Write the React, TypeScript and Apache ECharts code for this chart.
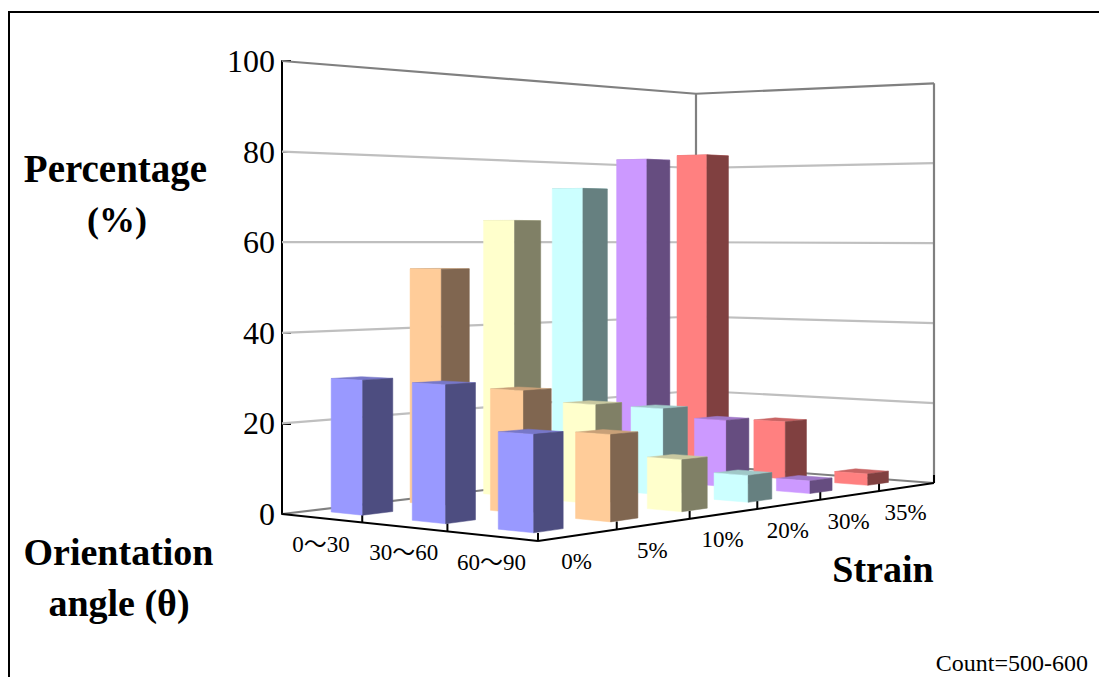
import React, { useEffect, useRef } from "react";
import * as echarts from "echarts";

const strainLabels = ["0%", "5%", "10%", "20%", "30%", "35%"];
const angleLabels = ["0～30", "30～60", "60～90"];
const tickValues = [0, 20, 40, 60, 80, 100];

// Percentage of fibres per orientation band, one entry per strain level.
const band0to30 = [29.7, 53.9, 65.2, 73.2, 81, 82.8];
const band30to60 = [29.7, 27.2, 22.8, 20.5, 16.3, 14.5];
const band60to90 = [20.4, 18.8, 11.6, 6.2, 3, 2.8];
const bands = [band0to30, band30to60, band60to90];

const faceLight = ["#9999FF", "#FFCC99", "#FFFFCC", "#CCFFFF", "#CC99FF", "#FF8080"];
const faceDark = ["#4D4D80", "#806650", "#808066", "#668080", "#664D80", "#804040"];
const faceTop = ["#7777C8", "#C8A078", "#C8C8A0", "#A0C8C8", "#A078C8", "#C86464"];

const SERIF = '"Liberation Serif","Times New Roman","Noto Sans CJK JP",serif';

// Floor plane corners on screen: a runs along the orientation axis, s along the strain axis.
const LEFT = [282, 514];
const FRONT = [538, 541];
const RIGHT = [934, 483];
const BACK = [696, 465];
const GRID = { left: 282, top: 61, width: 652, height: 453 };

const dx1 = FRONT[0] - RIGHT[0];
const dx2 = BACK[0] - RIGHT[0];
const sx = LEFT[0] - FRONT[0] + RIGHT[0] - BACK[0];
const dy1 = FRONT[1] - RIGHT[1];
const dy2 = BACK[1] - RIGHT[1];
const sy = LEFT[1] - FRONT[1] + RIGHT[1] - BACK[1];
const den = dx1 * dy2 - dx2 * dy1;
const G = (sx * dy2 - dx2 * sy) / den;
const H = (dx1 * sy - sx * dy1) / den;
const A = FRONT[0] - LEFT[0] + G * FRONT[0];
const B = BACK[0] - LEFT[0] + H * BACK[0];
const D = FRONT[1] - LEFT[1] + G * FRONT[1];
const E = BACK[1] - LEFT[1] + H * BACK[1];

// Perspective projection of a floor point raised by `lift` pixels (as measured on the left wall).
function project(a: number, s: number, lift = 0): number[] {
  const w = G * a + H * s + 1;
  return [
    (A * a + B * s + LEFT[0]) / w,
    (D * a + E * s + LEFT[1]) / w - lift / w,
  ];
}

// Bar footprint inside its cell, as fractions of the cell.
const A_START = 0.22;
const A_END = 0.615;
const S_START = 0.385;
const S_END = 0.76;

const barData: number[][] = [];
bands.forEach((values, angle) => {
  for (let strain = values.length - 1; strain >= 0; strain--) {
    barData.push([strain, values[strain], angle]);
  }
});

function renderBar(_: any, api: any) {
  const strain = api.value(0);
  const value = api.value(1);
  const angle = api.value(2);
  const [px, py] = api.coord([strain, value]);
  const cellS = (px - GRID.left) / GRID.width - 0.5 / 6;
  const lift = GRID.top + GRID.height - py;
  const a0 = (angle + A_START) / 3;
  const a1 = (angle + A_END) / 3;
  const s0 = cellS + S_START / 6;
  const s1 = cellS + S_END / 6;
  const face = (pts: number[][], fill: string) => ({
    type: "polygon",
    shape: { points: pts },
    style: { fill, stroke: fill, lineWidth: 0.5 },
  });
  return {
    type: "group",
    children: [
      face(
        [project(a0, s0, lift), project(a1, s0, lift), project(a1, s1, lift), project(a0, s1, lift)],
        faceTop[strain]
      ),
      face(
        [project(a0, s0), project(a1, s0), project(a1, s0, lift), project(a0, s0, lift)],
        faceLight[strain]
      ),
      face(
        [project(a1, s0), project(a1, s1), project(a1, s1, lift), project(a1, s0, lift)],
        faceDark[strain]
      ),
    ],
  };
}

function renderWalls(_: any, api: any) {
  const children: any[] = [];
  const line = (p: number[], q: number[], stroke: string, lineWidth = 2.2) => ({
    type: "line",
    shape: { x1: p[0], y1: p[1], x2: q[0], y2: q[1] },
    style: { stroke, lineWidth },
  });
  const liftOf = (v: number) => GRID.top + GRID.height - api.coord([0, v])[1];
  tickValues.forEach((v) => {
    const lift = liftOf(v);
    const edge = v === 0 || v === 100;
    const stroke = edge ? "#808080" : "#BFBFBF";
    children.push(line(project(0, 0, lift), project(0, 1, lift), stroke));
    children.push(line(project(0, 1, lift), project(1, 1, lift), stroke));
  });
  const top = liftOf(100);
  children.push(line(project(0, 1), project(0, 1, top), "#808080"));
  children.push(line(project(1, 1), project(1, 1, top), "#808080"));
  return { type: "group", children };
}

function renderFloorAxes() {
  const children: any[] = [];
  const line = (p: number[], q: number[]) => ({
    type: "line",
    shape: { x1: p[0], y1: p[1], x2: q[0], y2: q[1] },
    style: { stroke: "#000", lineWidth: 2 },
  });
  const label = (p: number[], text: string, shift: number) => ({
    type: "text",
    style: {
      text,
      x: p[0] + shift,
      y: p[1] + 26,
      align: "center",
      verticalAlign: "middle",
      fontFamily: SERIF,
      fontSize: 23,
      fill: "#000",
    },
  });
  children.push(line(project(0, 0), project(1, 0)));
  children.push(line(project(1, 0), project(1, 1)));
  for (let i = 1; i <= angleLabels.length; i++) {
    const p = project(i / 3, 0);
    children.push(line(p, [p[0], p[1] - 8]));
  }
  for (let i = 1; i <= strainLabels.length; i++) {
    const p = project(1, i / 6);
    children.push(line(p, [p[0], p[1] - 8]));
  }
  angleLabels.forEach((t, i) => children.push(label(project((i + 0.5) / 3, 0), t, -0.5)));
  strainLabels.forEach((t, i) => children.push(label(project(1, (i + 0.5) / 6), t, -1.5)));
  return { type: "group", children };
}

function title(text: string, x: number, y: number, fontSize = 38) {
  return {
    type: "text",
    style: {
      text,
      x,
      y,
      align: "center",
      verticalAlign: "middle",
      fontFamily: SERIF,
      fontWeight: "bold",
      fontSize,
      fill: "#000",
    },
  };
}

export default function App() {
  const ref = useRef<HTMLDivElement>(null);
  useEffect(() => {
    document.body.style.margin = "0";
    document.body.style.overflow = "hidden";
    const chart = echarts.init(ref.current!, undefined, { renderer: "svg" });
    chart.setOption({
      animation: false,
      backgroundColor: "#fff",
      grid: { ...GRID },
      xAxis: { type: "category", data: strainLabels, show: false },
      yAxis: {
        type: "value",
        min: 0,
        max: 100,
        interval: 20,
        splitLine: { show: false },
        axisLine: { show: true, lineStyle: { color: "#000", width: 2 } },
        axisTick: { show: true, inside: true, length: 9, lineStyle: { color: "#000", width: 2 } },
        axisLabel: { color: "#000", fontFamily: SERIF, fontSize: 32, margin: 7 },
      },
      series: [
        { type: "custom", silent: true, z: 1, data: [[0, 0]], renderItem: renderWalls },
        { type: "custom", silent: true, z: 2, data: [[0, 0]], renderItem: renderFloorAxes },
        {
          type: "custom",
          silent: true,
          z: 3,
          data: barData,
          encode: { x: 0, y: 1 },
          renderItem: renderBar,
        },
      ],
      graphic: [
        {
          type: "rect",
          shape: { x: 9, y: 12, width: 1300, height: 900 },
          style: { fill: "none", stroke: "#000", lineWidth: 2 },
        },
        title("Percentage", 115.5, 168, 39),
        title("(%)", 117, 220, 36),
        title("Orientation", 118.5, 552),
        title("angle (θ)", 119, 603),
        title("Strain", 883, 569),
        {
          type: "text",
          style: {
            text: "Count=500-600",
            x: 1088,
            y: 663,
            align: "right",
            verticalAlign: "middle",
            fontFamily: SERIF,
            fontSize: 24,
            fill: "#000",
          },
        },
      ],
    });
    return () => chart.dispose();
  }, []);
  return <div ref={ref} style={{ width: 1099, height: 677 }} />;
}
